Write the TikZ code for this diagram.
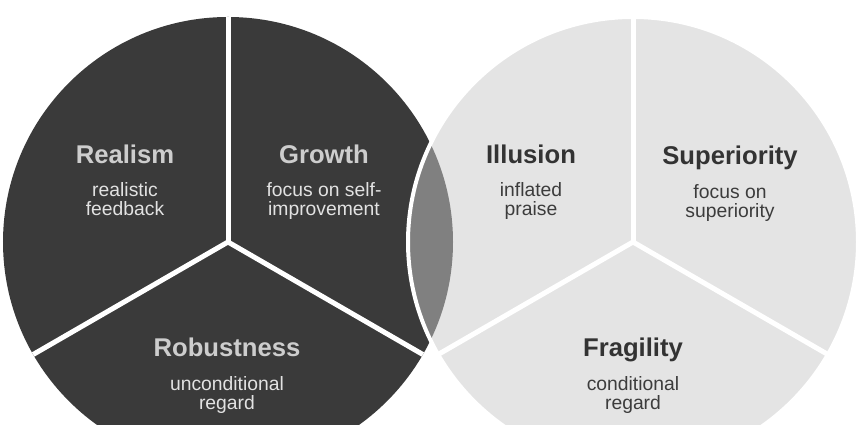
\documentclass[tikz,border=0pt]{standalone}
\usepackage{fontspec}
\setmainfont{Liberation Sans}
\usetikzlibrary{positioning}
\definecolor{darkfill}{HTML}{3A3A3A}
\definecolor{lightfill}{HTML}{E4E4E4}
\definecolor{lensfill}{HTML}{808080}
\definecolor{darkhead}{HTML}{CDCDCD}
\definecolor{darksub}{HTML}{E2E2E2}
\definecolor{lighthead}{HTML}{333333}
\definecolor{lightsub}{HTML}{3C3C3C}
\tikzset{%
     divider/.style = { white, line width=0.05cm },
     outline/.style = { white, line width=0.04cm },
    headline/.style = { anchor=base, font=\fontsize{7.3}{8}\selectfont\bfseries },
     subline/.style = { anchor=base, align=center, font=\fontsize{5.5}{5.6}\selectfont },
      ondark/.style = { text=darkhead },
     onlight/.style = { text=lighthead }
}

\begin{document}
\begin{tikzpicture}
\useasboundingbox (0,0) rectangle (8.6,4.25);
\clip (0,0) rectangle (8.6,4.25);
\coordinate (L) at (2.28,1.83);
\coordinate (R) at (6.33,1.83);
% the two discs
\fill [darkfill]  (L) circle (2.25);
\fill [lightfill] (R) circle (2.25);
\begin{scope}
  \clip (L) circle (2.25);
  \fill [lensfill] (R) circle (2.25);
\end{scope}
\draw [outline] (R) circle (2.25);
% three sectors each
\foreach \c in {L,R}
  \foreach \a in {90,210,330}
    \draw [divider] (\c) -- ++(\a:2.25);
% left disc (sub text: anchor sits on the last line)
\node [headline,ondark] (realism) at (1.25,2.61) {Realism};
\node [subline,text=darksub] (realismsub) at (1.25,2.09) {realistic\\feedback};
\node [headline,ondark] (growth) at (3.24,2.61) {Growth};
\node [subline,text=darksub] (growthsub) at (3.24,2.09) {focus on self-\\improvement};
\node [headline,ondark] (robust) at (2.27,0.68) {Robustness};
\node [subline,text=darksub] (robustsub) at (2.27,0.15) {unconditional\\regard};
% right disc
\node [headline,onlight] (illusion) at (5.31,2.61) {Illusion};
\node [subline,text=lightsub] (illusionsub) at (5.31,2.09) {inflated\\praise};
\node [headline,onlight] (superior) at (7.30,2.60) {Superiority};
\node [subline,text=lightsub] (superiorsub) at (7.30,2.07) {focus on\\superiority};
\node [headline,onlight] (fragile) at (6.33,0.68) {Fragility};
\node [subline,text=lightsub] (fragilesub) at (6.33,0.15) {conditional\\regard};
\end{tikzpicture}
\end{document}
